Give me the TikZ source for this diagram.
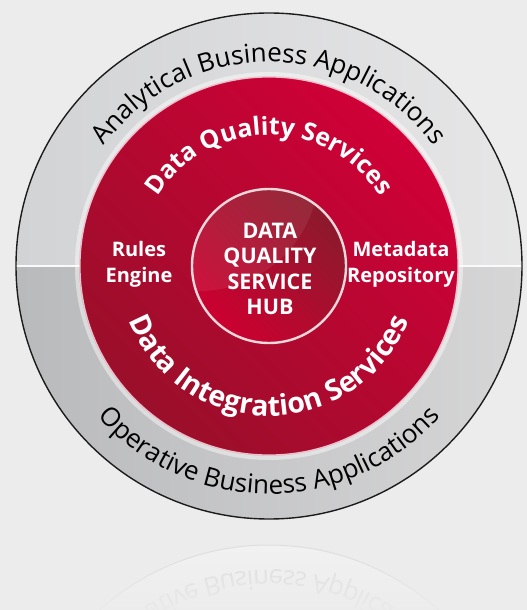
\documentclass[tikz,border=0pt]{standalone}
\usepackage{fontspec}
\setmainfont{Open Sans}
\usetikzlibrary{decorations.text,fadings}

\definecolor{bgcol}{HTML}{ECECEC}
\definecolor{ringTL}{HTML}{D2D3D5}
\definecolor{ringTR}{HTML}{E6E6E7}
\definecolor{ringBL}{HTML}{B9BABC}
\definecolor{ringBR}{HTML}{D6D6D7}
\definecolor{redD}{HTML}{9A0F2A}
\definecolor{redB}{HTML}{D00037}
\definecolor{hubD}{HTML}{8C1A2C}
\definecolor{hubB}{HTML}{CC0030}
\definecolor{hubrim}{HTML}{EAD8DB}
\definecolor{rimline}{HTML}{1C1C1C}
\definecolor{reflgray}{HTML}{DEDEDE}

\newcommand\ringfont{\fontsize{26}{26}\selectfont}
\newcommand\uppercorefont{\bfseries\fontsize{25}{25}\selectfont}
\newcommand\lowercorefont{\bfseries\fontsize{28.5}{28.5}\selectfont}

\tikzfading[name=floorfade, top color=transparent!100, bottom color=transparent!15]

\begin{document}
\begin{tikzpicture}[x=1pt,y=1pt,
  arctext/.style 2 args={decorate, decoration={text along path,
      text align=center, text color=#1, text={#2}}},
  hubtext/.style={text=white, align=center, inner sep=0,
      font=\bfseries\fontsize{21.5}{25.3}\selectfont},
  sidetext/.style={text=white, align=center, inner sep=0,
      font=\bfseries\fontsize{20}{26}\selectfont},
  divider/.style={white!96!gray, line width=1.3}]

% page background
\fill[bgcol] (-269,-344) rectangle (258,266);

% faint mirror image of the lower rim on the floor
\begin{scope}
  \clip (-269,-268) rectangle (258,-344);
  \begin{scope}[transform canvas={shift={(0,-532)}, yscale=-1}]
    \fill[white, opacity=0.3] (0,0) circle[radius=253];
    \draw[reflgray, line width=1] (0,0) circle[radius=253];
    \path[arctext={reflgray}{|\ringfont|Operative Business Applications}]
      (190:228) arc[start angle=190, end angle=350, radius=228];
  \end{scope}
\end{scope}
\fill[bgcol, path fading=floorfade] (-269,-285) rectangle (258,-344);

% grey outer ring, upper and lower halves
\shade[left color=ringTL, right color=ringTR]
  (253,0) arc[start angle=0, end angle=180, radius=253]
  -- (-189,0) arc[start angle=180, end angle=0, radius=189] -- cycle;
\shade[left color=ringBL, right color=ringBR]
  (253,0) arc[start angle=0, end angle=-180, radius=253]
  -- (-189,0) arc[start angle=-180, end angle=0, radius=189] -- cycle;
\draw[white, opacity=0.45, line width=4] (0,0) circle[radius=192];

% horizontal split of the ring
\coordinate (ringW) at (-253,0);
\coordinate (coreW) at (-189,0);
\coordinate (coreE) at (189,0);
\coordinate (ringE) at (253,0);
\draw[divider] (ringW) -- (coreW);
\draw[divider] (coreE) -- (ringE);

\draw[rimline, line width=1.4] (0,0) circle[radius=253];

% red service disc
\shade[top color=redB, bottom color=redD, shading angle=-45]
  (0,0) circle[radius=189];
\draw[white!75!redB, line width=1.2] (0,0) circle[radius=189];

% central hub
\node[circle, minimum size=154, inner sep=0, top color=hubD, bottom color=hubB,
  shading angle=-45, draw=hubrim, line width=2.4] (hub) at (0,0) {};
\begin{scope}
  \clip (0,0) circle[radius=76];
  \fill[white, opacity=0.07] (-70,95) circle[radius=120];
\end{scope}
\node[hubtext] (hubtxt) at (1,-3) {DATA\\QUALITY\\SERVICE\\HUB};

% side labels
\node[sidetext] (rules) at (-130,2) {Rules\\Engine};
\node[sidetext] (meta) at (132,2) {Metadata\\Repository};

% curved labels
\path[arctext={black}{|\ringfont|Analytical Business Applications}]
  (170:204) arc[start angle=170, end angle=10, radius=204];
\path[arctext={black}{|\ringfont|Operative Business Applications}]
  (190:228) arc[start angle=190, end angle=350, radius=228];
\path[arctext={white}{|\uppercorefont|Data Quality Services}]
  (170:131) arc[start angle=170, end angle=10, radius=131];
\path[arctext={white}{|\lowercorefont|Data Integration Services}]
  (190:150) arc[start angle=190, end angle=350, radius=150];
\end{tikzpicture}
\end{document}
